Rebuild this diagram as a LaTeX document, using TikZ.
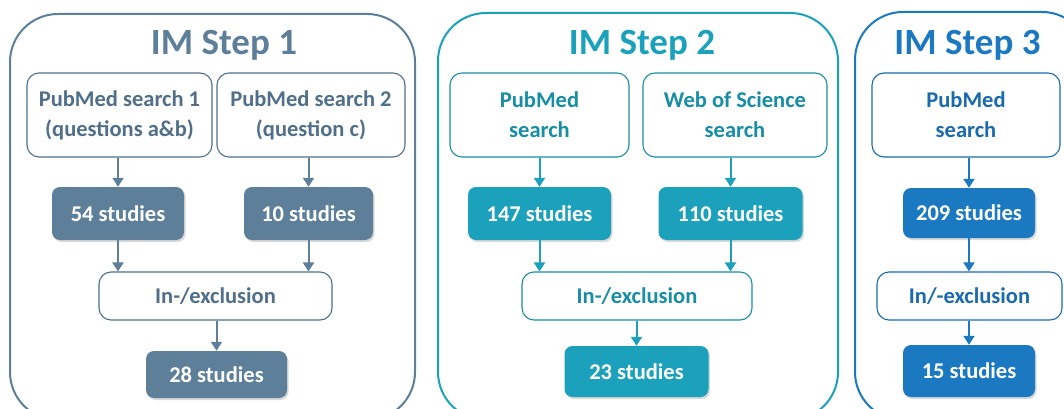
\documentclass[tikz,border=0pt]{standalone}
\usepackage{fontspec}
\setmainfont{Carlito}
\usetikzlibrary{shadows,arrows.meta}
\definecolor{cA}{HTML}{5E7F99}
\definecolor{cAt}{HTML}{4F6F8A}
\definecolor{cB}{HTML}{1BA1BB}
\definecolor{cBt}{HTML}{178DA6}
\definecolor{cC}{HTML}{1B79C2}
\definecolor{cCt}{HTML}{1A6AAE}
\tikzset{
  x=1pt, y=-1pt,
  panel/.style={draw=#1, line width=2pt, rounded corners=48pt},
  ttl/.style={text=#1, font=\bfseries\fontsize{37}{40}\selectfont, inner sep=0pt},
  wbox/.style={draw=#1, line width=1.1pt, fill=white, rounded corners=12pt, text=#1,
    font=\bfseries\fontsize{22.5}{30}\selectfont, align=center, inner sep=0pt},
  sbox/.style={fill=#1, rounded corners=8pt, text=white,
    font=\bfseries\fontsize{22.5}{30}\selectfont, align=center, inner sep=0pt,
    drop shadow={opacity=0.3, shadow xshift=1.5pt, shadow yshift=-2pt}},
  arr/.style={draw=#1, line width=2pt, -{Triangle[length=9pt,width=11pt]}},
}
\begin{document}
\begin{tikzpicture}
\useasboundingbox (0,0) rectangle (1064,409);
% Panel 1
\draw[panel=cA] (10,14) rectangle (415,420);
\node[ttl=cA] (t1) at (224,45) {IM Step 1};
\node[wbox=cAt, minimum width=185pt, minimum height=84pt] (a1) at (119.5,115) {PubMed search 1\\(questions a\&b)};
\node[wbox=cAt, minimum width=188pt, minimum height=84pt] (a2) at (311,115) {PubMed search 2\\(question c)};
\node[sbox=cA, minimum width=132pt, minimum height=53pt] (s1) at (118,213.5) {54 studies};
\node[sbox=cA, minimum width=129pt, minimum height=53pt] (s2) at (308.5,213.5) {10 studies};
\node[wbox=cAt, minimum width=233pt, minimum height=48pt] (e1) at (215.5,296) {In-/exclusion};
\node[sbox=cA, minimum width=141pt, minimum height=47pt] (f1) at (216.5,374.5) {28 studies};
\draw[arr=cA] (a1.south -| s1.north) -- (s1.north);
\draw[arr=cA] (a2.south -| s2.north) -- (s2.north);
\draw[arr=cA] (s1.south) -- (s1.south |- e1.north);
\draw[arr=cA] (s2.south) -- (s2.south |- e1.north);
\draw[arr=cA] (e1.south -| f1.north) -- (f1.north);
% Panel 2
\draw[panel=cB] (438,13) rectangle (838,420);
\node[ttl=cB] (t2) at (642,45) {IM Step 2};
\node[wbox=cBt, minimum width=179pt, minimum height=84pt] (b1) at (539.5,115) {PubMed\\search};
\node[wbox=cBt, minimum width=184pt, minimum height=84pt] (b2) at (735,115) {Web of Science\\search};
\node[sbox=cB, minimum width=143pt, minimum height=53pt] (u1) at (539.5,213.5) {147 studies};
\node[sbox=cB, minimum width=144pt, minimum height=53pt] (u2) at (730.5,213.5) {110 studies};
\node[wbox=cBt, minimum width=230pt, minimum height=48pt] (e2) at (637,296) {In-/exclusion};
\node[sbox=cB, minimum width=144pt, minimum height=51pt] (f2) at (636.5,371.5) {23 studies};
\draw[arr=cB] (b1.south -| u1.north) -- (u1.north);
\draw[arr=cB] (b2.south -| u2.north) -- (u2.north);
\draw[arr=cB] (u1.south) -- (u1.south |- e2.north);
\draw[arr=cB] (u2.south) -- (u2.south |- e2.north);
\draw[arr=cB] (e2.south -| f2.north) -- (f2.north);
% Panel 3
\draw[panel=cC] (855,12) rectangle (1090,420);
\node[ttl=cC] (t3) at (967.5,45) {IM Step 3};
\node[wbox=cCt, minimum width=188pt, minimum height=84pt] (c1) at (966,115) {PubMed\\search};
\node[sbox=cC, minimum width=132pt, minimum height=50pt] (v1) at (969,213) {209 studies};
\node[wbox=cCt, minimum width=185pt, minimum height=48pt] (e3) at (969.5,296) {In/-exclusion};
\node[sbox=cC, minimum width=132pt, minimum height=52pt] (f3) at (969,371) {15 studies};
\draw[arr=cC] (c1.south -| v1.north) -- (v1.north);
\draw[arr=cC] (v1.south) -- (v1.south |- e3.north);
\draw[arr=cC] (e3.south -| f3.north) -- (f3.north);
\end{tikzpicture}
\end{document}
